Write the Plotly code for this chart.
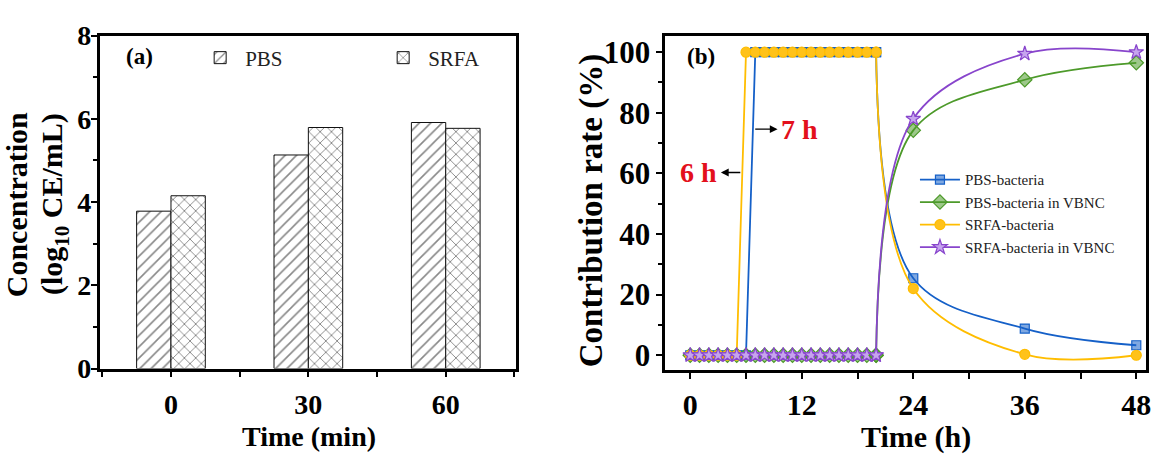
import plotly.graph_objects as go

# ---------------- data ----------------
# panel (a)
time_min = ["0", "30", "60"]
pbs_conc = [3.78, 5.13, 5.91]
srfa_conc = [4.15, 5.79, 5.77]

# panel (b)
hours = [0, 1, 2, 3, 4, 5, 6, 7, 8, 9, 10, 11, 12, 13, 14, 15, 16, 17, 18, 19, 20, 24, 36, 48]
pbs_bact = [0, 0, 0, 0, 0, 0, 0, 100, 100, 100, 100, 100, 100, 100, 100, 100, 100, 100, 100, 100, 100, 25.4, 8.8, 3.3]
pbs_vbnc = [0, 0, 0, 0, 0, 0, 0, 0, 0, 0, 0, 0, 0, 0, 0, 0, 0, 0, 0, 0, 0, 74.2, 90.9, 96.5]
srfa_bact = [0, 0, 0, 0, 0, 0, 100, 100, 100, 100, 100, 100, 100, 100, 100, 100, 100, 100, 100, 100, 100, 22.0, 0.3, 0.0]
srfa_vbnc = [0, 0, 0, 0, 0, 0, 0, 0, 0, 0, 0, 0, 0, 0, 0, 0, 0, 0, 0, 0, 0, 78.0, 99.5, 100.0]

series_names = ["PBS-bacteria", "PBS-bacteria in VBNC", "SRFA-bacteria", "SRFA-bacteria in VBNC"]

# ---------------- styling ----------------
SERIF = "Liberation Serif"
BLUE = "#1560c8"
GREEN = "#4d9a2a"
YELLOW = "#ffbd00"
PURPLE = "#8845cc"

fig = go.Figure()

xpos = list(range(len(time_min)))
fig.add_trace(go.Bar(
    x=xpos, y=pbs_conc, name="PBS", xaxis="x", yaxis="y", legend="legend",
    marker=dict(color="white", line=dict(color="#111", width=1),
                pattern=dict(shape="/", fgcolor="#111", bgcolor="white", size=8, solidity=0.2)),
))
fig.add_trace(go.Bar(
    x=xpos, y=srfa_conc, name="SRFA", xaxis="x", yaxis="y", legend="legend",
    marker=dict(color="white", line=dict(color="#111", width=1),
                pattern=dict(shape="x", fgcolor="#111", bgcolor="white", size=8, solidity=0.22)),
))

styles = [
    dict(color=BLUE, symbol="square", fill="rgba(21,96,200,0.55)", size=9),
    dict(color=GREEN, symbol="diamond", fill="rgba(77,154,42,0.55)", size=11),
    dict(color=YELLOW, symbol="circle", fill="#ffc21a", size=10),
    dict(color=PURPLE, symbol="star", fill="#c6a4ee", size=11),
]
all_series = [pbs_bact, pbs_vbnc, srfa_bact, srfa_vbnc]
split = hours.index(20)

# straight segments (0-20 h)
for name, ys, st in zip(series_names, all_series, styles):
    fig.add_trace(go.Scatter(
        x=hours[:split + 1], y=ys[:split + 1], name=name, mode="lines+markers",
        xaxis="x2", yaxis="y2", legend="legend2",
        line=dict(color=st["color"], width=1.8),
        marker=dict(symbol=st["symbol"], size=st["size"], color=st["fill"],
                    line=dict(color=st["color"], width=1.2)),
    ))
# smoothed segments (20-48 h)
for name, ys, st in zip(series_names, all_series, styles):
    fig.add_trace(go.Scatter(
        x=hours[split:], y=ys[split:], name=name, mode="lines+markers", showlegend=False,
        xaxis="x2", yaxis="y2",
        line=dict(color=st["color"], width=1.8, shape="spline", smoothing=1.0),
        marker=dict(symbol=st["symbol"], size=st["size"], color=st["fill"],
                    line=dict(color=st["color"], width=1.2)),
    ))

def axis_common(size):
    return dict(showgrid=False, zeroline=False, showline=True, linecolor="black",
                linewidth=2.5, mirror=True, ticks="outside", ticklen=6, tickwidth=2,
                tickcolor="black", ticklabeloverflow="allow",
                tickfont=dict(family=SERIF, size=size, color="black", weight="bold"))

fig.update_layout(
    width=1153, height=461,
    margin=dict(l=0, r=0, t=0, b=0),
    paper_bgcolor="white", plot_bgcolor="white",
    barmode="group", bargap=0.5, bargroupgap=0,
    xaxis=dict(domain=[0.0867, 0.4493], range=[-0.52, 2.51], tickmode="array",
               tickvals=xpos, ticktext=time_min, ticklabelstandoff=3,
               minor=dict(dtick=0.5, tick0=0.5, ticks="outside", ticklen=6, tickwidth=2, tickcolor="black"),
               anchor="y", **axis_common(28)),
    yaxis=dict(domain=[0.1779, 0.9523], range=[0, 8], dtick=2, ticklabelstandoff=-6,
               minor=dict(dtick=1, ticks="outside", ticklen=4, tickwidth=2, tickcolor="black"),
               anchor="x", **axis_common(28)),
    xaxis2=dict(domain=[0.5794, 0.9983], range=[-2.7, 49.05], dtick=12, tick0=0,
                ticklabelstandoff=0,
                minor=dict(dtick=6, ticks="outside", ticklen=6, tickwidth=2, tickcolor="black"),
                anchor="y2", **axis_common(30)),
    yaxis2=dict(domain=[0.1735, 0.9523], range=[-5, 105.5], dtick=20, tick0=0,
                minor=dict(dtick=10, ticks="outside", ticklen=4, tickwidth=2, tickcolor="black"),
                anchor="x2", **axis_common(31)),
    legend=dict(orientation="h", x=0.170, y=0.90, xanchor="left", yanchor="middle",
                font=dict(family=SERIF, size=21, color="#222"), bgcolor="rgba(0,0,0,0)",
                entrywidth=128, itemwidth=40),
    legend2=dict(x=0.797, y=0.655, xanchor="left", yanchor="top",
                 font=dict(family=SERIF, size=15, color="#222"), bgcolor="rgba(0,0,0,0)",
                 itemwidth=40, tracegroupgap=0),
    showlegend=True,
)

ann_font = dict(family=SERIF, size=28, color="black", weight="bold")
annotations = [
    dict(text="Time (min)", x=310 / 1153, y=1 - 452 / 461, xref="paper", yref="paper",
         showarrow=False, font=ann_font, xanchor="center", yanchor="middle"),
    dict(text="Time (h)", x=920 / 1153, y=1 - 452 / 461, xref="paper", yref="paper",
         showarrow=False, font=dict(ann_font, size=30), xanchor="center", yanchor="middle"),
    dict(text="Concentration", x=16 / 1153, y=1 - 203 / 461, xref="paper", yref="paper",
         textangle=-90, showarrow=False, font=dict(ann_font, size=30), xanchor="center", yanchor="middle"),
    dict(text="(log<sub>10</sub> CE/mL)", x=55 / 1153, y=1 - 203 / 461, xref="paper", yref="paper",
         textangle=-90, showarrow=False, font=dict(ann_font, size=30), xanchor="center", yanchor="middle"),
    dict(text="Contribution rate (%)", x=594 / 1153, y=1 - 210 / 461, xref="paper", yref="paper",
         textangle=-90, showarrow=False, font=dict(ann_font, size=33), xanchor="center", yanchor="middle"),
    dict(text="(a)", x=140 / 1153, y=1 - 45 / 461, xref="paper", yref="paper",
         showarrow=False, font=dict(ann_font, size=23), xanchor="center", yanchor="middle"),
    dict(text="(b)", x=704 / 1153, y=1 - 45 / 461, xref="paper", yref="paper",
         showarrow=False, font=dict(ann_font, size=23), xanchor="center", yanchor="middle"),
    # time labels
    dict(text="7 h", x=11.8, y=74.6, xref="x2", yref="y2", showarrow=False,
         font=dict(family=SERIF, size=28, color="#e3101c", weight="bold"), xanchor="center", yanchor="middle"),
    dict(text="6 h", x=0.85, y=60.3, xref="x2", yref="y2", showarrow=False,
         font=dict(family=SERIF, size=28, color="#e3101c", weight="bold"), xanchor="center", yanchor="middle"),
    # arrows (tail at the curve, head toward the label)
    dict(text=" ", x=9.4, y=74.6, ax=6.83, ay=74.6, xref="x2", yref="y2", axref="x2", ayref="y2",
         showarrow=True, arrowhead=2, arrowsize=1.2, arrowwidth=1.3, arrowcolor="black",
         font=dict(size=1)),
    dict(text=" ", x=3.3, y=60.3, ax=5.55, ay=60.3, xref="x2", yref="y2", axref="x2", ayref="y2",
         showarrow=True, arrowhead=2, arrowsize=1.2, arrowwidth=1.3, arrowcolor="black",
         font=dict(size=1)),
]
fig.update_layout(annotations=annotations)

fig.write_html("out.html")
